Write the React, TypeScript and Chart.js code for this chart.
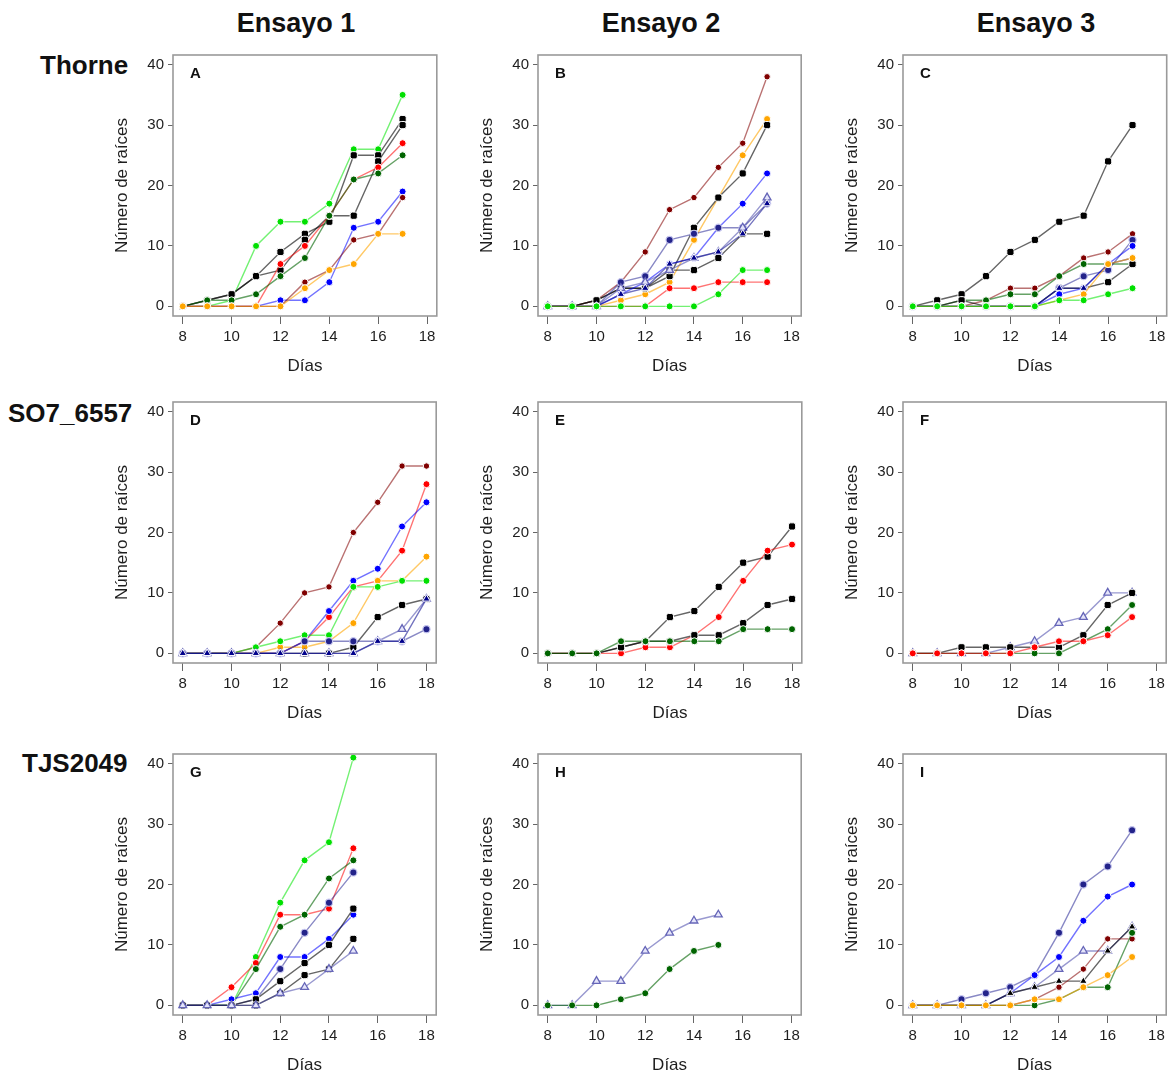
import React, { useEffect, useRef } from 'react';
import { Chart, registerables } from 'chart.js';

Chart.register(...registerables);

const FONT = '"Liberation Sans", Arial, Helvetica, sans-serif';

// ---- axes ----
const daysTo17 = [8, 9, 10, 11, 12, 13, 14, 15, 16, 17];
const daysTo18 = [8, 9, 10, 11, 12, 13, 14, 15, 16, 17, 18];
const daysTo15 = [8, 9, 10, 11, 12, 13, 14, 15];
const xTickValues = [8, 10, 12, 14, 16, 18];
const yTickValues = [0, 10, 20, 30, 40];
const columnTitles = ['Ensayo 1', 'Ensayo 2', 'Ensayo 3'];
const rowTitles = ['Thorne', 'SO7_6557', 'TJS2049'];
const panelLetters = ['A', 'B', 'C', 'D', 'E', 'F', 'G', 'H', 'I'];

// ---- Panel A (Thorne, Ensayo 1) ----
const aLime = [0, 0, 1, 10, 14, 14, 17, 26, 26, 35];
const aBlack1 = [0, 1, 2, 5, 9, 12, 14, 25, 25, 31];
const aBlack2 = [0, 1, 2, 5, 6, 11, 15, 15, 24, 30];
const aRed = [0, 0, 0, 0, 7, 10, 15, 21, 23, 27];
const aDkGreen = [0, 1, 1, 2, 5, 8, 15, 21, 22, 25];
const aBlue = [0, 0, 0, 0, 1, 1, 4, 13, 14, 19];
const aBrown = [0, 0, 0, 0, 0, 4, 6, 11, 12, 18];
const aOrange = [0, 0, 0, 0, 0, 3, 6, 7, 12, 12];

// ---- Panel B (Thorne, Ensayo 2) ----
const bBrown = [0, 0, 1, 4, 9, 16, 18, 23, 27, 38];
const bOrange = [0, 0, 0, 1, 2, 4, 11, 18, 25, 31];
const bBlack1 = [0, 0, 1, 3, 3, 5, 13, 18, 22, 30];
const bBlack2 = [0, 0, 1, 3, 3, 6, 6, 8, 12, 12];
const bBlue = [0, 0, 0, 2, 4, 7, 8, 13, 17, 22];
const bSlate = [0, 0, 0, 4, 5, 11, 12, 13, 13, 17];
const bLavTri = [0, 0, 0, 3, 4, 6, 8, 9, 13, 18];
const bNavyTri = [0, 0, 0, 2, 3, 7, 8, 9, 12, 17];
const bRed = [0, 0, 0, 0, 0, 3, 3, 4, 4, 4];
const bLime = [0, 0, 0, 0, 0, 0, 0, 2, 6, 6];

// ---- Panel C (Thorne, Ensayo 3) ----
const cBlack1 = [0, 1, 2, 5, 9, 11, 14, 15, 24, 30];
const cBrown = [0, 0, 0, 1, 3, 3, 5, 8, 9, 12];
const cDkGreen = [0, 0, 1, 1, 2, 2, 5, 7, 7, 7];
const cBlack2 = [0, 0, 1, 0, 0, 0, 3, 3, 4, 7];
const cSlate = [0, 0, 0, 0, 0, 0, 3, 5, 6, 11];
const cBlue = [0, 0, 0, 0, 0, 0, 2, 3, 7, 10];
const cNavyTri = [0, 0, 0, 0, 0, 0, 3, 3, 7, 8];
const cOrange = [0, 0, 0, 0, 0, 0, 1, 2, 7, 8];
const cLime = [0, 0, 0, 0, 0, 0, 1, 1, 2, 3];

// ---- Panel D (SO7_6557, Ensayo 1) ----
const dBrown = [0, 0, 0, 1, 5, 10, 11, 20, 25, 31, 31];
const dRed = [0, 0, 0, 0, 0, 2, 6, 11, 12, 17, 28];
const dBlue = [0, 0, 0, 0, 0, 2, 7, 12, 14, 21, 25];
const dOrange = [0, 0, 0, 0, 1, 1, 2, 5, 12, 12, 16];
const dLime = [0, 0, 0, 1, 2, 3, 3, 11, 11, 12, 12];
const dBlack = [0, 0, 0, 0, 0, 0, 0, 1, 6, 8, 9];
const dLavTri = [0, 0, 0, 0, 0, 0, 0, 0, 2, 4, 9];
const dSlate = [0, 0, 0, 0, 0, 2, 2, 2, 2, 2, 4];
const dNavyTri = [0, 0, 0, 0, 0, 0, 0, 0, 2, 2, 9];

// ---- Panel E (SO7_6557, Ensayo 2) ----
const eBlack1 = [0, 0, 0, 1, 2, 6, 7, 11, 15, 16, 21];
const eRed = [0, 0, 0, 0, 1, 1, 3, 6, 12, 17, 18];
const eBlack2 = [0, 0, 0, 1, 2, 2, 3, 3, 5, 8, 9];
const eDkGreen = [0, 0, 0, 2, 2, 2, 2, 2, 4, 4, 4];

// ---- Panel F (SO7_6557, Ensayo 3) ----
const fLavTri = [0, 0, 0, 0, 1, 2, 5, 6, 10, 10];
const fBlack = [0, 0, 1, 1, 1, 1, 1, 3, 8, 10];
const fDkGreen = [0, 0, 0, 0, 0, 0, 0, 2, 4, 8];
const fRed = [0, 0, 0, 0, 0, 1, 2, 2, 3, 6];

// ---- Panel G (TJS2049, Ensayo 1) ----
const gLime = [0, 0, 0, 8, 17, 24, 27, 41];
const gRed = [0, 0, 3, 7, 15, 15, 16, 26];
const gDkGreen = [0, 0, 0, 6, 13, 15, 21, 24];
const gSlate = [0, 0, 0, 1, 6, 12, 17, 22];
const gBlue = [0, 0, 1, 2, 8, 8, 11, 15];
const gBlack1 = [0, 0, 0, 1, 4, 7, 10, 16];
const gBlack2 = [0, 0, 0, 0, 2, 5, 6, 11];
const gLavTri = [0, 0, 0, 0, 2, 3, 6, 9];

// ---- Panel H (TJS2049, Ensayo 2) ----
const hLavTri = [0, 0, 4, 4, 9, 12, 14, 15];
const hDkGreen = [0, 0, 0, 1, 2, 6, 9, 10];

// ---- Panel I (TJS2049, Ensayo 3) ----
const iSlate = [0, 0, 1, 2, 3, 5, 12, 20, 23, 29];
const iBlue = [0, 0, 0, 0, 2, 5, 8, 14, 18, 20];
const iLavTri = [0, 0, 0, 0, 2, 3, 6, 9, 9, 13];
const iBlackTri = [0, 0, 0, 0, 2, 3, 4, 4, 9, 13];
const iBrown = [0, 0, 0, 0, 0, 1, 3, 6, 11, 11];
const iDkGreen = [0, 0, 0, 0, 0, 0, 1, 3, 3, 12];
const iOrange = [0, 0, 0, 0, 0, 1, 1, 3, 5, 8];

type StyleKey =
  | 'black' | 'red' | 'lime' | 'dkgreen' | 'blue' | 'brown' | 'orange'
  | 'slate' | 'lavTri' | 'navyTri' | 'blackTri';

const STYLE: Record<StyleKey, { point: string; border: string; line: string; shape: string; r: number; bw: number }> = {
  black: { point: '#000000', border: '#ffffff', line: 'rgba(0,0,0,0.6)', shape: 'rectRounded', r: 4.2, bw: 1 },
  red: { point: '#ff0000', border: '#ffffff', line: 'rgba(255,0,0,0.55)', shape: 'circle', r: 3.5, bw: 1 },
  lime: { point: '#00e000', border: '#ffffff', line: 'rgba(0,230,0,0.55)', shape: 'circle', r: 3.5, bw: 1 },
  dkgreen: { point: '#006400', border: '#ffffff', line: 'rgba(0,100,0,0.6)', shape: 'circle', r: 3.5, bw: 1 },
  blue: { point: '#0000ff', border: '#ffffff', line: 'rgba(0,0,255,0.55)', shape: 'circle', r: 3.5, bw: 1 },
  brown: { point: '#800000', border: '#ffffff', line: 'rgba(140,20,20,0.6)', shape: 'circle', r: 3.2, bw: 1 },
  orange: { point: '#ffa500', border: '#ffffff', line: 'rgba(255,165,0,0.6)', shape: 'circle', r: 3.5, bw: 1 },
  slate: { point: '#23238a', border: '#c8c8f0', line: 'rgba(40,40,150,0.55)', shape: 'circle', r: 3.6, bw: 1.2 },
  lavTri: { point: '#e4e4fa', border: '#6666b8', line: 'rgba(70,70,170,0.55)', shape: 'triangle', r: 4.5, bw: 1.3 },
  navyTri: { point: '#00008b', border: '#ffffff', line: 'rgba(0,0,139,0.55)', shape: 'triangle', r: 4.3, bw: 1 },
  blackTri: { point: '#000000', border: '#ffffff', line: 'rgba(0,0,0,0.6)', shape: 'triangle', r: 4.3, bw: 1 },
};

type Panel = { days: number[]; series: [StyleKey, number[]][] };

const PANELS: Panel[] = [
  { days: daysTo17, series: [['orange', aOrange], ['brown', aBrown], ['blue', aBlue], ['dkgreen', aDkGreen], ['red', aRed], ['black', aBlack2], ['black', aBlack1], ['lime', aLime]] },
  { days: daysTo17, series: [['lime', bLime], ['red', bRed], ['navyTri', bNavyTri], ['lavTri', bLavTri], ['slate', bSlate], ['blue', bBlue], ['black', bBlack2], ['black', bBlack1], ['orange', bOrange], ['brown', bBrown]] },
  { days: daysTo17, series: [['lime', cLime], ['orange', cOrange], ['navyTri', cNavyTri], ['blue', cBlue], ['slate', cSlate], ['black', cBlack2], ['dkgreen', cDkGreen], ['brown', cBrown], ['black', cBlack1]] },
  { days: daysTo18, series: [['navyTri', dNavyTri], ['slate', dSlate], ['lavTri', dLavTri], ['black', dBlack], ['lime', dLime], ['orange', dOrange], ['blue', dBlue], ['red', dRed], ['brown', dBrown]] },
  { days: daysTo18, series: [['dkgreen', eDkGreen], ['black', eBlack2], ['red', eRed], ['black', eBlack1]] },
  { days: daysTo17, series: [['red', fRed], ['dkgreen', fDkGreen], ['black', fBlack], ['lavTri', fLavTri]] },
  { days: daysTo15, series: [['lavTri', gLavTri], ['black', gBlack2], ['black', gBlack1], ['blue', gBlue], ['slate', gSlate], ['dkgreen', gDkGreen], ['red', gRed], ['lime', gLime]] },
  { days: daysTo15, series: [['dkgreen', hDkGreen], ['lavTri', hLavTri]] },
  { days: daysTo17, series: [['orange', iOrange], ['dkgreen', iDkGreen], ['brown', iBrown], ['blackTri', iBlackTri], ['lavTri', iLavTri], ['blue', iBlue], ['slate', iSlate]] },
];

// ---- layout ----
const COL_LEFT = [173, 538, 903];
const ROW_TOP = [55, 402, 754];
const PLOT_W = 265;
const PLOT_H = 261;
const AXIS_W = 70;
const AXIS_H = 62;
const PAD_T = 14;
const PAD_R = 4;
const CANVAS_W = AXIS_W + PLOT_W + PAD_R;
const CANVAS_H = PAD_T + PLOT_H + AXIS_H;

function makeFramePlugin(letter: string) {
  return {
    id: 'frameAndLetter',
    afterDraw(chart: any) {
      const { ctx, chartArea } = chart;
      const { left, top, right, bottom } = chartArea;
      ctx.save();
      ctx.strokeStyle = '#9a9a9a';
      ctx.lineWidth = 1.6;
      ctx.strokeRect(left, top, right - left, bottom - top);
      ctx.fillStyle = '#111111';
      ctx.font = `bold 15px ${FONT}`;
      ctx.textBaseline = 'alphabetic';
      ctx.textAlign = 'left';
      ctx.fillText(letter, left + 17, top + 23);
      ctx.restore();
    },
  };
}

function makeConfig(panel: Panel, letter: string): any {
  const datasets = panel.series.map(([key, vals]) => {
    const st = STYLE[key];
    return {
      data: vals.map((v, i) => ({ x: panel.days[i], y: v })),
      borderColor: st.line,
      borderWidth: 1.4,
      pointStyle: st.shape,
      pointRadius: st.r,
      pointBackgroundColor: st.point,
      pointBorderColor: st.border,
      pointBorderWidth: st.bw,
      fill: false,
      tension: 0,
    };
  });
  return {
    type: 'line',
    data: { datasets },
    options: {
      animation: false,
      responsive: false,
      maintainAspectRatio: false,
      events: [],
      layout: { padding: { top: PAD_T, right: PAD_R, left: 0, bottom: 0 } },
      plugins: { legend: { display: false }, tooltip: { enabled: false } },
      scales: {
        x: {
          type: 'linear',
          min: 7.6,
          max: 18.4,
          afterBuildTicks: (axis: any) => {
            axis.ticks = xTickValues.map((v) => ({ value: v }));
          },
          afterFit: (axis: any) => {
            axis.height = AXIS_H;
          },
          grid: { display: true, drawOnChartArea: false, drawTicks: true, tickLength: 8, color: '#666666', lineWidth: 1 },
          border: { display: false },
          ticks: { font: { size: 15, family: FONT }, color: '#1e1e1e', padding: 4, maxRotation: 0, autoSkip: false },
          title: { display: true, text: 'Días', font: { size: 17, family: FONT }, color: '#1e1e1e', padding: { top: 0, bottom: 1 } },
        },
        y: {
          type: 'linear',
          min: -1.6,
          max: 41.6,
          afterBuildTicks: (axis: any) => {
            axis.ticks = yTickValues.map((v) => ({ value: v }));
          },
          afterFit: (axis: any) => {
            axis.width = AXIS_W;
          },
          grid: { display: true, drawOnChartArea: false, drawTicks: true, tickLength: 5, color: '#666666', lineWidth: 1 },
          border: { display: false },
          ticks: { font: { size: 15, family: FONT }, color: '#1e1e1e', padding: 4, autoSkip: false },
          title: { display: true, text: 'Número de raíces', font: { size: 17, family: FONT }, color: '#1e1e1e', padding: { top: 9, bottom: 0 } },
        },
      },
    },
    plugins: [makeFramePlugin(letter)],
  };
}

const COL_TITLE_CX = [296, 661, 1036];
const ROW_TITLE_POS = [
  { left: 40, top: 52 },
  { left: 8, top: 400 },
  { left: 22, top: 750 },
];

export default function App() {
  const refs = useRef<(HTMLCanvasElement | null)[]>([]);

  useEffect(() => {
    const charts: Chart[] = [];
    PANELS.forEach((p, i) => {
      const c = refs.current[i];
      if (c) charts.push(new Chart(c, makeConfig(p, panelLetters[i])));
    });
    return () => charts.forEach((ch) => ch.destroy());
  }, []);

  return (
    <div
      style={{
        position: 'absolute',
        left: 0,
        top: 0,
        width: 1172,
        height: 1074,
        overflow: 'hidden',
        background: '#ffffff',
        fontFamily: FONT,
      }}
    >
      {columnTitles.map((t, i) => (
        <div
          key={t}
          style={{
            position: 'absolute',
            left: COL_TITLE_CX[i] - 100,
            width: 200,
            top: 10,
            textAlign: 'center',
            fontWeight: 'bold',
            fontSize: 27,
            lineHeight: '27px',
            color: '#111',
          }}
        >
          {t}
        </div>
      ))}
      {rowTitles.map((t, i) => (
        <div
          key={t}
          style={{
            position: 'absolute',
            left: ROW_TITLE_POS[i].left,
            top: ROW_TITLE_POS[i].top,
            fontWeight: 'bold',
            fontSize: 26,
            lineHeight: '26px',
            color: '#111',
            whiteSpace: 'nowrap',
          }}
        >
          {t}
        </div>
      ))}
      {PANELS.map((_, i) => {
        const col = i % 3;
        const row = Math.floor(i / 3);
        return (
          <canvas
            key={i}
            ref={(el) => {
              refs.current[i] = el;
            }}
            width={CANVAS_W}
            height={CANVAS_H}
            style={{
              position: 'absolute',
              left: COL_LEFT[col] - AXIS_W,
              top: ROW_TOP[row] - PAD_T,
              width: CANVAS_W,
              height: CANVAS_H,
            }}
          />
        );
      })}
    </div>
  );
}
